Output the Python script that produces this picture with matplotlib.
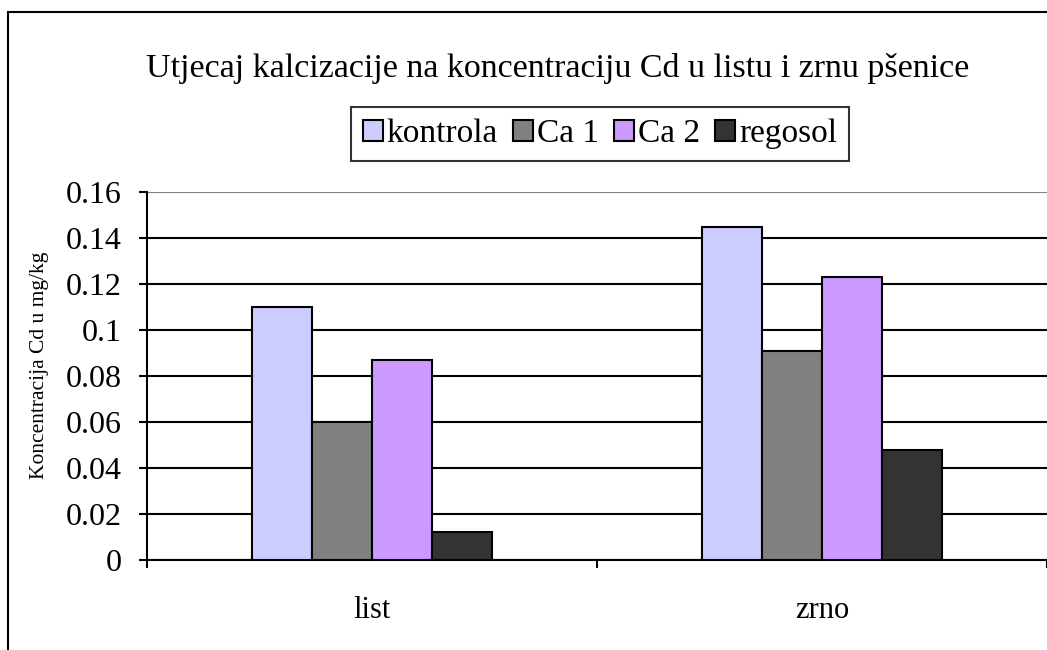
import numpy as np
from matplotlib import pyplot as plt
from matplotlib.patches import Rectangle

plt.rcParams['font.family'] = ['Liberation Serif', 'DejaVu Serif']

# data
categories = ['list', 'zrno']
series = ['kontrola', 'Ca 1', 'Ca 2', 'regosol']
kontrola = [0.110, 0.145]
ca1 = [0.060, 0.091]
ca2 = [0.087, 0.123]
regosol = [0.012, 0.048]
values = [kontrola, ca1, ca2, regosol]
colors = ['#CCCCFF', '#808080', '#CC99FF', '#333333']
yticks = [0, 0.02, 0.04, 0.06, 0.08, 0.1, 0.12, 0.14, 0.16]
ytick_labels = ['0', '0.02', '0.04', '0.06', '0.08', '0.1', '0.12', '0.14', '0.16']

fig = plt.figure(figsize=(10.47, 6.5), dpi=100)
ax = fig.add_axes([147/1047, 90/650, 1 - 147/1047, 368/650])

x = np.arange(len(categories))
w = 0.133
for i, (name, vals) in enumerate(zip(series, values)):
    ax.bar(x + (i - 1.5) * w, vals, w, color=colors[i], edgecolor='black',
           linewidth=1.5, label=name, zorder=3)

ax.set_xlim(-0.5, 1.5)
ax.set_ylim(0, 0.16)
ax.set_yticks(yticks)
ax.set_yticklabels(ytick_labels, fontsize=23)
ax.yaxis.grid(True, color='black', linewidth=1.5, zorder=0)
ax.set_axisbelow(True)
ax.tick_params(axis='y', direction='out', length=6, width=1.5, pad=12)

ax.set_xticks(x)
ax.set_xticklabels(categories, fontsize=22)
ax.set_xticks([-0.5, 0.5, 1.5], minor=True)
ax.tick_params(axis='x', which='major', length=0, pad=26)
ax.tick_params(axis='x', which='minor', direction='out', length=6, width=1.5)

for s in ['top', 'right']:
    ax.spines[s].set_visible(False)
for s in ['left', 'bottom']:
    ax.spines[s].set_linewidth(1.5)
gl = ax.yaxis.get_gridlines()
gl[-1].set_color('#808080')

fig.text(558/1047, 1 - 68/650, 'Utjecaj kalcizacije na koncentraciju Cd u listu i zrnu pšenice',
         ha='center', va='center', fontsize=24.5)
fig.text(40/1047, 1 - 365/650, 'Koncentracija Cd u mg/kg', rotation=90,
         ha='center', va='center', fontsize=15.5)

leg = fig.legend(loc='center', bbox_to_anchor=(600/1047, 1 - 134/650), ncol=4,
                 fontsize=24, frameon=True, fancybox=False, handlelength=0.6,
                 handleheight=0.6, handletextpad=0.12, columnspacing=0.45,
                 borderpad=0.35, borderaxespad=0)
leg.get_frame().set_edgecolor('black')
leg.get_frame().set_linewidth(1.5)

fig.patches.append(Rectangle((8/1047, -0.1), 2, 1.1 - 12/650, transform=fig.transFigure,
                             fill=False, edgecolor='black', linewidth=1.5))

fig.savefig('out.png', dpi=100)
